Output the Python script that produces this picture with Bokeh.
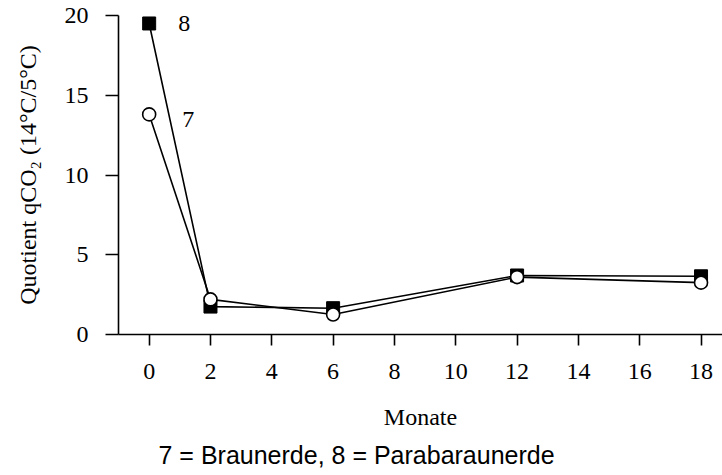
from bokeh.plotting import figure
from bokeh.models import FixedTicker, Title, ColumnDataSource
from bokeh.core.properties import value
from bokeh.embed import file_html
from bokeh.resources import INLINE

# Months after sampling and qCO2 quotient (14 °C / 5 °C) for two soils
months = [0, 2, 6, 12, 18]
parabraunerde_8 = [19.5, 1.75, 1.65, 3.7, 3.65]
braunerde_7 = [13.8, 2.2, 1.25, 3.6, 3.25]

x_ticks = [0, 2, 4, 6, 8, 10, 12, 14, 16, 18]
y_ticks = [0, 5, 10, 15, 20]

# series labels: text, x, y
series_labels = ["8", "7"]
label_x = [0.95, 1.08]
label_y = [19.5, 13.5]

SERIF = "Liberation Serif"
SANS = "Liberation Sans"

p = figure(width=722, height=475, output_backend="svg", toolbar_location=None,
           x_range=(-1.0, 18.7), y_range=(0, 20),
           min_border_left=118, min_border_right=0, min_border_top=15,
           min_border_bottom=141)
p.outline_line_color = None
p.grid.visible = False
p.background_fill_color = "white"
p.border_fill_color = "white"

for ax in (p.xaxis, p.yaxis):
    ax.axis_line_width = 1.6
    ax.major_tick_line_width = 1.6
    ax.minor_tick_line_color = None
    ax.major_tick_in = 0
    ax.major_label_text_font = SERIF
    ax.major_label_text_font_size = "24px"
    ax.major_label_text_color = "black"
    ax.axis_label_text_font = SERIF
    ax.axis_label_text_font_style = "normal"
    ax.axis_label_text_font_size = "24px"
    ax.axis_label_text_color = "black"

p.xaxis.ticker = FixedTicker(ticks=x_ticks)
p.xaxis.major_tick_out = 11
p.xaxis.major_label_standoff = 18
p.xaxis.axis_label = "Monate"
p.xaxis.axis_label_standoff = 22

p.yaxis.ticker = FixedTicker(ticks=y_ticks)
p.yaxis.major_tick_out = 13
p.yaxis.major_label_standoff = 17
p.yaxis.axis_label = "Quotient qCO\u2082 (14°C/5°C)"
p.yaxis.axis_label_standoff = 21

src8 = ColumnDataSource(dict(x=months, y=parabraunerde_8))
src7 = ColumnDataSource(dict(x=months, y=braunerde_7))

p.line("x", "y", source=src8, line_color="black", line_width=1.6)
p.line("x", "y", source=src7, line_color="black", line_width=1.6)
p.scatter("x", "y", source=src8, marker="square", size=13,
          fill_color="black", line_color="black", line_width=1)
p.scatter("x", "y", source=src7, marker="circle", size=13,
          fill_color="white", line_color="black", line_width=1.6)

p.text(x=label_x, y=label_y, text=series_labels, text_font=value(SERIF),
       text_font_size="24px", text_align="left", text_baseline="middle",
       text_color="black")

# caption below the x-axis title
caption = Title(text="7 = Braunerde, 8 = Parabaraunerde", align="left",
                offset=40, text_font=SANS, text_font_style="normal",
                text_font_size="25px", text_color="black", standoff=13)
p.add_layout(caption, "below")

open("out.html", "w").write(file_html(p, INLINE))
